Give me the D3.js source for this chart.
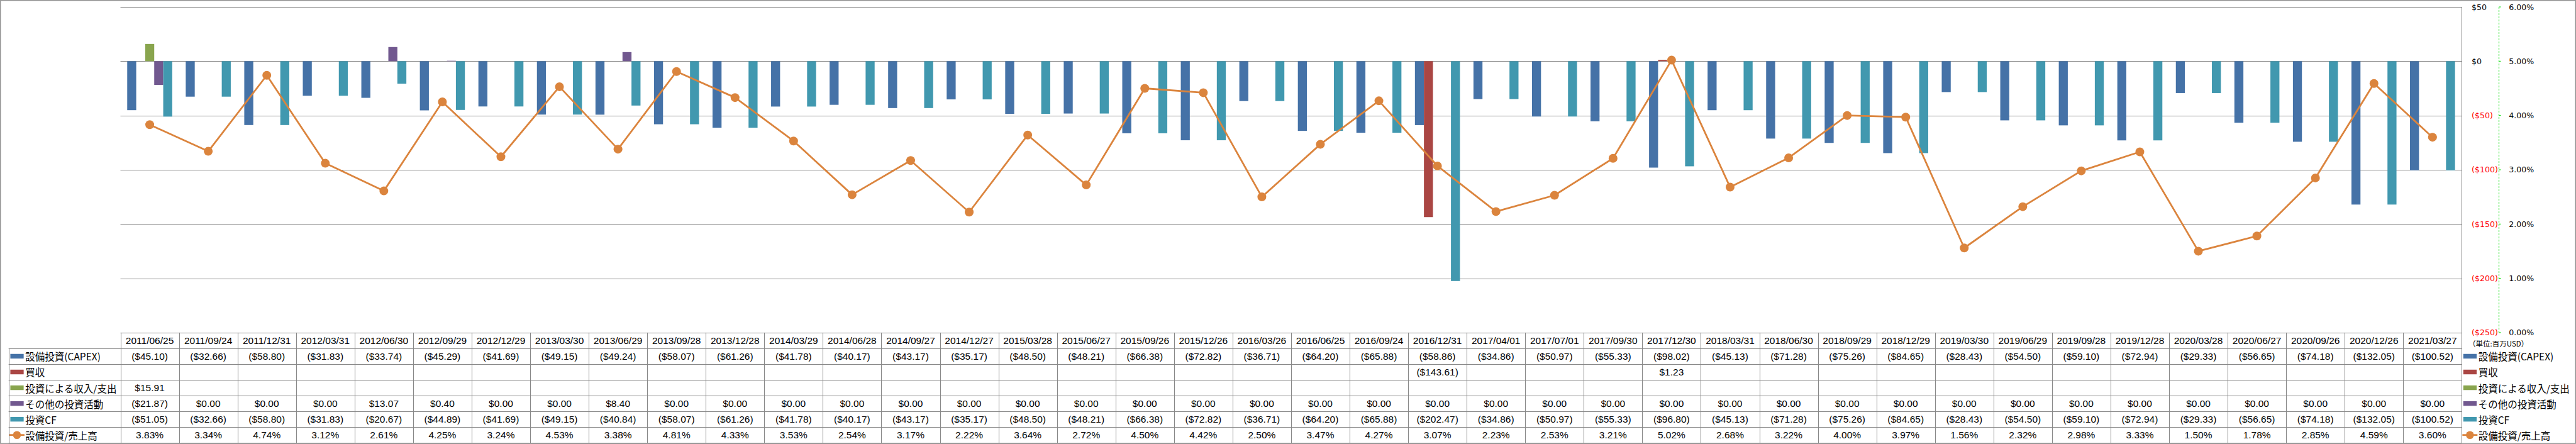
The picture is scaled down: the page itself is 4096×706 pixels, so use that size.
<!DOCTYPE html>
<html>
<head>
<meta charset="utf-8">
<script src="https://cdn.jsdelivr.net/npm/d3@7"></script>
<style>
html,body{margin:0;padding:0;background:#fff;}
svg{display:block;}
</style>
</head>
<body>
<svg id="chart" width="4096" height="706"></svg>
<script>
const dates = ["2011/06/25","2011/09/24","2011/12/31","2012/03/31","2012/06/30","2012/09/29","2012/12/29","2013/03/30","2013/06/29","2013/09/28","2013/12/28","2014/03/29","2014/06/28","2014/09/27","2014/12/27","2015/03/28","2015/06/27","2015/09/26","2015/12/26","2016/03/26","2016/06/25","2016/09/24","2016/12/31","2017/04/01","2017/07/01","2017/09/30","2017/12/30","2018/03/31","2018/06/30","2018/09/29","2018/12/29","2019/03/30","2019/06/29","2019/09/28","2019/12/28","2020/03/28","2020/06/27","2020/09/26","2020/12/26","2021/03/27"];

const capex = [-45.10,-32.66,-58.80,-31.83,-33.74,-45.29,-41.69,-49.15,-49.24,-58.07,-61.26,-41.78,-40.17,-43.17,-35.17,-48.50,-48.21,-66.38,-72.82,-36.71,-64.20,-65.88,-58.86,-34.86,-50.97,-55.33,-98.02,-45.13,-71.28,-75.26,-84.65,-28.43,-54.50,-59.10,-72.94,-29.33,-56.65,-74.18,-132.05,-100.52];

const acquisition = [null,null,null,null,null,null,null,null,null,null,null,null,null,null,null,null,null,null,null,null,null,null,-143.61,null,null,null,1.23,null,null,null,null,null,null,null,null,null,null,null,null,null];

const investIncome = [15.91,null,null,null,null,null,null,null,null,null,null,null,null,null,null,null,null,null,null,null,null,null,null,null,null,null,null,null,null,null,null,null,null,null,null,null,null,null,null,null];

const otherInvest = [-21.87,0,0,0,13.07,0.40,0,0,8.40,0,0,0,0,0,0,0,0,0,0,0,0,0,0,0,0,0,0,0,0,0,0,0,0,0,0,0,0,0,0,0];

const investCF = [-51.05,-32.66,-58.80,-31.83,-20.67,-44.89,-41.69,-49.15,-40.84,-58.07,-61.26,-41.78,-40.17,-43.17,-35.17,-48.50,-48.21,-66.38,-72.82,-36.71,-64.20,-65.88,-202.47,-34.86,-50.97,-55.33,-96.80,-45.13,-71.28,-75.26,-84.65,-28.43,-54.50,-59.10,-72.94,-29.33,-56.65,-74.18,-132.05,-100.52];

const capexRatio = [3.83,3.34,4.74,3.12,2.61,4.25,3.24,4.53,3.38,4.81,4.33,3.53,2.54,3.17,2.22,3.64,2.72,4.50,4.42,2.50,3.47,4.27,3.07,2.23,2.53,3.21,5.02,2.68,3.22,4.00,3.97,1.56,2.32,2.98,3.33,1.50,1.78,2.85,4.59,3.60];

const seriesNames = ["設備投資(CAPEX)","買収","投資による収入/支出","その他の投資活動","投資CF"];
const lineName = "設備投資/売上高";
const seriesColors = ["#4572A7","#AA4643","#89A54E","#71588F","#4198AF"];
const lineColor = "#DB843D";
const dollarTicks = [50,0,-50,-100,-150,-200,-250];
const pctTicks = [6,5,4,3,2,1,0];
const unitLabel = "（単位:百万USD）";

const seriesData = [capex, acquisition, investIncome, otherInvest, investCF];

// layout (reference px * 0.822)
const S = 0.822;
const W = 4096, H = 706;
const plotL = 233*S, plotR = 4762*S, plotT = 13.4*S, plotB = 643.4*S;
const rowH = (856.7-643.4)/7*S;
const tableTop = plotB;
const tableBottom = tableTop + 7*rowH;
const leftColX = 16.7*S;
const gridColor = "#878787";

const svg = d3.select("#chart");

// outer border
svg.append("rect").attr("x",0.75).attr("y",0.75).attr("width",W-1.5).attr("height",tableBottom+0.2)
  .attr("fill","none").attr("stroke",gridColor).attr("stroke-width",1.3);

const x = d3.scaleBand().domain(dates).range([plotL, plotR]).paddingInner(0).paddingOuter(0);
const xs = d3.scaleBand().domain(seriesNames).range([0, x.bandwidth()]).paddingInner(0).paddingOuter(0.75);
const y = d3.scaleLinear().domain([-250, 50]).range([plotB, plotT]);
const y2 = d3.scaleLinear().domain([0, 6]).range([plotB, plotT]);

// gridlines
svg.append("g").selectAll("line").data(dollarTicks).join("line")
  .attr("x1",plotL).attr("x2",plotR)
  .attr("y1",d=>Math.round(y(d))+0.5).attr("y2",d=>Math.round(y(d))+0.5)
  .attr("stroke",gridColor).attr("stroke-width",1);

// bars
const barsG = svg.append("g");
seriesData.forEach((arr, si) => {
  barsG.append("g").selectAll("rect")
    .data(arr.map((v,i)=>({v, d:dates[i]})).filter(o=>o.v!==null))
    .join("rect")
    .attr("x", o => x(o.d) + xs(seriesNames[si]))
    .attr("width", xs.bandwidth())
    .attr("y", o => Math.min(y(o.v), y(0)))
    .attr("height", o => Math.abs(y(o.v) - y(0)))
    .attr("fill", seriesColors[si]);
});

// line
const line = d3.line().x((v,i)=>x(dates[i]) + x.bandwidth()/2).y(v=>y2(v));
svg.append("path").datum(capexRatio).attr("d", line)
  .attr("fill","none").attr("stroke",lineColor).attr("stroke-width",2.8).attr("stroke-linejoin","round");
svg.append("g").selectAll("circle").data(capexRatio).join("circle")
  .attr("cx",(v,i)=>x(dates[i]) + x.bandwidth()/2).attr("cy",v=>y2(v)).attr("r",7)
  .attr("fill",lineColor);

// plot right border
svg.append("line").attr("x1",Math.round(plotR)+0.5).attr("x2",Math.round(plotR)+0.5)
  .attr("y1",plotT).attr("y2",tableBottom).attr("stroke",gridColor).attr("stroke-width",1);

// right axes
const axFont = "'DejaVu Sans', Verdana, sans-serif";
const dollarFmt = v => v < 0 ? "($" + d3.format(",")(-v) + ")" : "$" + d3.format(",")(v);
svg.append("g").selectAll("text").data(dollarTicks).join("text")
  .attr("x", 4781*S).attr("y", d=>y(d)).attr("dominant-baseline","central")
  .attr("font-family",axFont).attr("font-size",12.6)
  .attr("fill", d => d < 0 ? "#FF0000" : "#000")
  .text(dollarFmt);
const gx = 4834*S;
svg.append("line").attr("x1",gx).attr("x2",gx).attr("y1",plotT).attr("y2",plotB)
  .attr("stroke","#00DD00").attr("stroke-width",1).attr("stroke-dasharray","3,2");
svg.append("g").selectAll("line").data(pctTicks).join("line")
  .attr("x1",gx).attr("x2",gx+3).attr("y1",d=>y2(d)).attr("y2",d=>y2(d))
  .attr("stroke","#00DD00").attr("stroke-width",1);
svg.append("g").selectAll("text").data(pctTicks).join("text")
  .attr("x", 4853*S).attr("y", d=>y2(d)).attr("dominant-baseline","central")
  .attr("font-family",axFont).attr("font-size",12.6).attr("fill","#000")
  .text(d => d3.format(".2f")(d) + "%");

// data table
const tG = svg.append("g");
// horizontal lines
for (let k = 1; k <= 7; k++) {
  const yy = Math.round(tableTop + k*rowH) + 0.5;
  tG.append("line").attr("x1",leftColX).attr("x2",plotR).attr("y1",yy).attr("y2",yy)
    .attr("stroke",gridColor).attr("stroke-width",1);
}
// vertical lines
tG.append("line").attr("x1",Math.round(leftColX)+0.5).attr("x2",Math.round(leftColX)+0.5)
  .attr("y1",tableTop+rowH).attr("y2",tableBottom).attr("stroke",gridColor).attr("stroke-width",1);
dates.forEach((d,i) => {
  const xx = Math.round(x(d)) + 0.5;
  tG.append("line").attr("x1",xx).attr("x2",xx).attr("y1",tableTop).attr("y2",tableBottom)
    .attr("stroke",gridColor).attr("stroke-width",1);
});

const tblFont = "'Liberation Sans', Arial, sans-serif";
const jpFont = "'Noto Sans CJK JP', sans-serif";
const moneyFmt = v => v === null ? "" : (v < 0 ? "($" + d3.format(",.2f")(-v) + ")" : "$" + d3.format(",.2f")(v));
const rowCenter = r => tableTop + (r + 0.5) * rowH;

// header
tG.append("g").selectAll("text").data(dates).join("text")
  .attr("x", d => x(d) + x.bandwidth()/2).attr("y", rowCenter(0))
  .attr("text-anchor","middle").attr("dominant-baseline","central")
  .attr("font-family",tblFont).attr("font-size",15.5).attr("fill","#000")
  .text(d => d);

const tableRows = seriesData.map(arr => arr.map(moneyFmt));
tableRows.push(capexRatio.map(v => d3.format(".2f")(v) + "%"));
tableRows.forEach((row, r) => {
  tG.append("g").selectAll("text").data(row).join("text")
    .attr("x", (t,i) => x(dates[i]) + x.bandwidth()/2).attr("y", rowCenter(r+1))
    .attr("text-anchor","middle").attr("dominant-baseline","central")
    .attr("font-family",tblFont).attr("font-size",15.5).attr("fill","#000")
    .text(t => t);
});

// legend keys (table left column and right legend)
const allNames = seriesNames.concat([lineName]);
function drawLegend(g, keyX, textX) {
  allNames.forEach((name, i) => {
    const cy = rowCenter(i+1);
    if (i < 5) {
      g.append("rect").attr("x",keyX).attr("y",cy-3.7).attr("width",21.2).attr("height",7.4)
        .attr("fill",seriesColors[i]);
    } else {
      g.append("line").attr("x1",keyX-1.5).attr("x2",keyX+22.5).attr("y1",cy).attr("y2",cy)
        .attr("stroke",lineColor).attr("stroke-width",2.8);
      g.append("circle").attr("cx",keyX+10.5).attr("cy",cy).attr("r",6.3).attr("fill",lineColor);
    }
    g.append("text").attr("x",textX).attr("y",cy).attr("dominant-baseline","central")
      .attr("font-family",jpFont).attr("font-size",15.5).attr("fill","#000").text(name);
  });
}
drawLegend(svg.append("g"), 20*S, 49*S);
drawLegend(svg.append("g"), 4765*S, 4794*S);

svg.append("text").attr("x",4775*S).attr("y",664*S).attr("dominant-baseline","central")
  .attr("font-family",jpFont).attr("font-size",11.5).attr("fill","#000").text(unitLabel);
</script>
</body>
</html>
